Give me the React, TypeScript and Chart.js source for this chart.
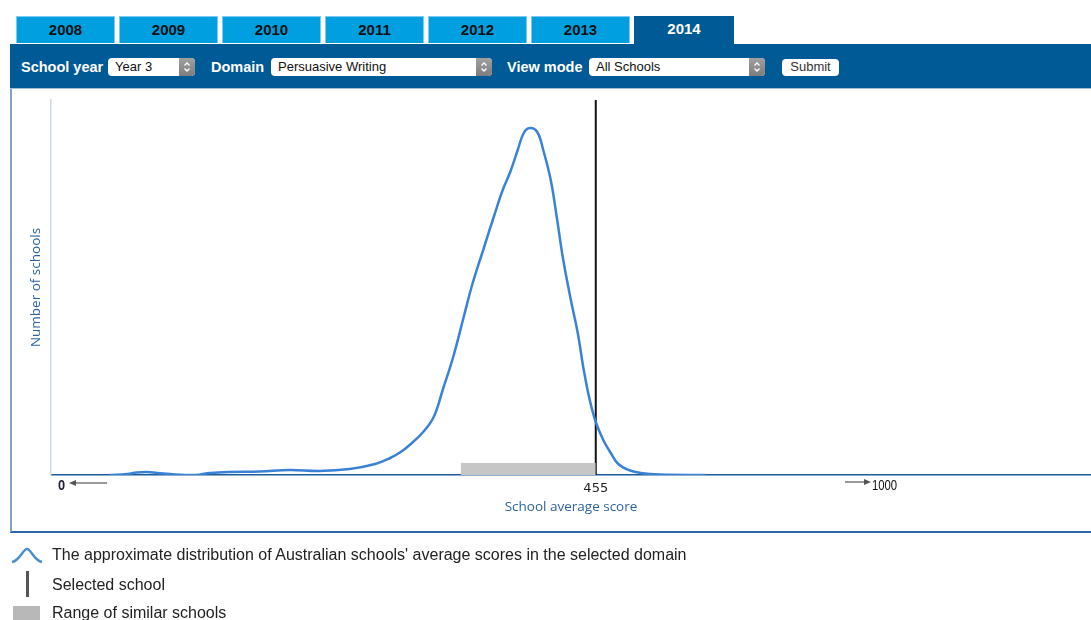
import React, { useEffect, useRef } from "react";
import { Chart, registerables } from "chart.js";

Chart.register(...registerables);

// ---- data ----
const scores = [131, 143, 149, 156, 163, 175, 188, 198, 211, 231, 251, 271, 291, 308, 318, 325, 331, 340, 347, 353, 360, 367, 373, 380, 387, 393, 398, 403, 407, 411, 416, 420, 425, 429, 433, 438, 443, 447, 451, 455, 460, 465, 470, 477, 485, 498, 528];
const schoolCounts = [0, 1, 2.5, 3, 2, 0.5, 0, 2, 3, 3.5, 5, 4, 6, 11, 17, 23, 30, 43, 58, 85, 118, 158, 192, 225, 258, 285, 303, 325, 342, 347, 343, 325, 295, 258, 218, 178, 142, 105, 75, 53, 35, 22, 11, 5, 2, 0.5, 0];
const selectedScore = 455;
const similarRange = [365, 455];
const similarBarHeight = 12;
const xRange = [92, 785];
const yMax = 375;
const tickValues = [455];
const years = ["2008", "2009", "2010", "2011", "2012", "2013", "2014"];
const activeYear = "2014";

const SANS = "'Liberation Sans', Arial, Helvetica, sans-serif";
const OPEN = "'Open Sans', 'Noto Sans', sans-serif";

function Stepper() {
  return (
    <div style={{ position: "absolute", right: 0, top: 0, width: 16, height: 18, background: "linear-gradient(#a0a0a0,#7d7d7d)", borderRadius: "0 4px 4px 0" }}>
      <svg width="16" height="18" style={{ position: "absolute", left: 0, top: 0 }}>
        <path d="M5.5 7.5 L8 5 L10.5 7.5" stroke="#fff" strokeWidth="1.3" fill="none" />
        <path d="M5.5 10.5 L8 13 L10.5 10.5" stroke="#fff" strokeWidth="1.3" fill="none" />
      </svg>
    </div>
  );
}

function Select({ left, width, text }: { left: number; width: number; text: string }) {
  return (
    <div style={{ position: "absolute", left, top: 58, width, height: 18, background: "#fff", borderRadius: 4, fontFamily: SANS, fontSize: 13, lineHeight: "18px", color: "#111" }}>
      <span style={{ position: "absolute", left: 7, top: 0 }}>{text}</span>
      <Stepper />
    </div>
  );
}

function Label({ left, text }: { left: number; text: string }) {
  return (
    <div style={{ position: "absolute", left, top: 58, height: 18, lineHeight: "18px", fontFamily: SANS, fontWeight: "bold", fontSize: 14.5, color: "#fff", whiteSpace: "nowrap" }}>{text}</div>
  );
}

export default function App() {
  const canvasRef = useRef<HTMLCanvasElement | null>(null);

  useEffect(() => {
    if (!canvasRef.current) return;
    const chart = new Chart(canvasRef.current, {
      type: "line",
      data: {
        datasets: [
          {
            data: similarRange.map((x) => ({ x, y: similarBarHeight })),
            backgroundColor: "#c6c6c6",
            borderWidth: 0,
            borderColor: "rgba(0,0,0,0)",
            fill: "origin",
            pointRadius: 0,
          },
          {
            data: scores.map((x, i) => ({ x, y: schoolCounts[i] })),
            borderColor: "#3a82d6",
            borderWidth: 2.5,
            pointRadius: 0,
            tension: 0.4,
            fill: false,
          },
          {
            data: [{ x: selectedScore, y: 0 }, { x: selectedScore, y: yMax }],
            borderColor: "#111111",
            borderWidth: 2,
            pointRadius: 0,
            fill: false,
          },
        ],
      } as any,
      options: {
        animation: false,
        responsive: false,
        devicePixelRatio: 1,
        layout: { padding: { top: 12, left: 0, right: 0, bottom: 0 } },
        plugins: { legend: { display: false }, tooltip: { enabled: false } },
        scales: {
          x: {
            type: "linear",
            min: xRange[0],
            max: xRange[1],
            grid: { display: false, drawTicks: false },
            border: { color: "#1d5c9c", width: 1.5 },
            afterBuildTicks: (scale: any) => {
              scale.ticks = tickValues.map((value) => ({ value }));
            },
            afterFit: (scale: any) => {
              scale.height = 58;
            },
            ticks: {
              padding: 6,
              color: "#222",
              font: { family: "'DejaVu Sans', sans-serif", size: 13 },
              callback: (v: any) => String(v),
            },
            title: {
              display: true,
              text: "School average score",
              color: "#2b64a0",
              font: { family: OPEN, size: 13.5 },
              padding: { top: 0, bottom: 18 },
            },
          },
          y: {
            type: "linear",
            min: 0,
            max: yMax,
            grid: { display: false, drawTicks: false },
            border: { color: "#cfdae6", width: 1.5 },
            ticks: { display: false },
            afterFit: (scale: any) => {
              scale.width = 40;
            },
            title: {
              display: true,
              text: "Number of schools",
              color: "#2b64a0",
              font: { family: OPEN, size: 13.5 },
              padding: { top: 17, bottom: 0 },
            },
          },
        },
      } as any,
    });
    return () => chart.destroy();
  }, []);

  return (
    <div style={{ position: "fixed", left: 0, top: 0, width: 1091, height: 620, overflow: "hidden", background: "#fff" }}>
      {/* tabs */}
      {years.map((y, i) => {
        const active = y === activeYear;
        return (
          <div
            key={y}
            style={{
              position: "absolute",
              left: 16 + i * 103,
              top: 16,
              width: active ? 100 : 99,
              height: active ? 29 : 27,
              background: active ? "#005a96" : "#009fe0",
              border: active ? "none" : "1px solid #7fcaf0",
              borderBottom: "none",
              boxSizing: "border-box",
              textAlign: "center",
              lineHeight: "25px",
              fontFamily: SANS,
              fontWeight: "bold",
              fontSize: 15,
              color: active ? "#fff" : "#111",
            }}
          >
            {y}
          </div>
        );
      })}
      {/* control bar */}
      <div style={{ position: "absolute", left: 10, top: 44, width: 1100, height: 44, background: "#005a96", borderBottom: "1px solid #9fc0de" }} />
      <Label left={21} text="School year" />
      <Select left={108} width={87} text="Year 3" />
      <Label left={211} text="Domain" />
      <Select left={271} width={221} text="Persuasive Writing" />
      <Label left={507} text="View mode" />
      <Select left={589} width={176} text="All Schools" />
      <div style={{ position: "absolute", left: 782, top: 59, width: 57, height: 17, background: "#fff", borderRadius: 4, fontFamily: SANS, fontSize: 13, lineHeight: "16px", textAlign: "center", color: "#333" }}>Submit</div>

      {/* panel */}
      <div style={{ position: "absolute", left: 10, top: 89, width: 1100, height: 444, borderLeft: "2px solid #7ba5cb", borderBottom: "2px solid #2a68a6", boxSizing: "border-box" }} />
      <canvas ref={canvasRef} width={1080} height={445} style={{ position: "absolute", left: 11, top: 88, width: 1080, height: 445 }} />

      {/* axis end labels */}
      <div style={{ position: "absolute", left: 58, top: 477, fontFamily: SANS, fontSize: 15, fontWeight: "bold", color: "#223", lineHeight: "16px", transform: "scaleX(0.85)", transformOrigin: "left" }}>0</div>
      <svg width="40" height="10" style={{ position: "absolute", left: 68, top: 478 }}>
        <line x1="6" y1="5" x2="39" y2="5" stroke="#777" strokeWidth="1.5" />
        <path d="M1 5 L8 2 L8 8 Z" fill="#555" />
      </svg>
      <svg width="28" height="10" style={{ position: "absolute", left: 844, top: 477 }}>
        <line x1="1" y1="5" x2="22" y2="5" stroke="#777" strokeWidth="1.5" />
        <path d="M27 5 L20 2 L20 8 Z" fill="#555" />
      </svg>
      <div style={{ position: "absolute", left: 872, top: 477, fontFamily: SANS, fontSize: 14.5, color: "#111", lineHeight: "16px", transform: "scaleX(0.78)", transformOrigin: "left" }}>1000</div>

      {/* legend */}
      <svg width="34" height="20" style={{ position: "absolute", left: 10, top: 545 }}>
        <path d="M2 17 C10 15.5, 13 4, 17 4 C21 4, 24 15.5, 32 17" stroke="#4a8fcc" strokeWidth="2.5" fill="none" />
      </svg>
      <div style={{ position: "absolute", left: 52, top: 545, fontFamily: SANS, fontSize: 16, color: "#222", lineHeight: "20px", whiteSpace: "nowrap" }}>
        The approximate distribution of Australian schools' average scores in the selected domain
      </div>
      <div style={{ position: "absolute", left: 26, top: 571, width: 3, height: 26, background: "#555" }} />
      <div style={{ position: "absolute", left: 52, top: 575, fontFamily: SANS, fontSize: 16, color: "#222", lineHeight: "20px" }}>Selected school</div>
      <div style={{ position: "absolute", left: 13, top: 606, width: 27, height: 20, background: "#b8b8b8" }} />
      <div style={{ position: "absolute", left: 52, top: 603, fontFamily: SANS, fontSize: 16, color: "#222", lineHeight: "20px" }}>Range of similar schools</div>
    </div>
  );
}
